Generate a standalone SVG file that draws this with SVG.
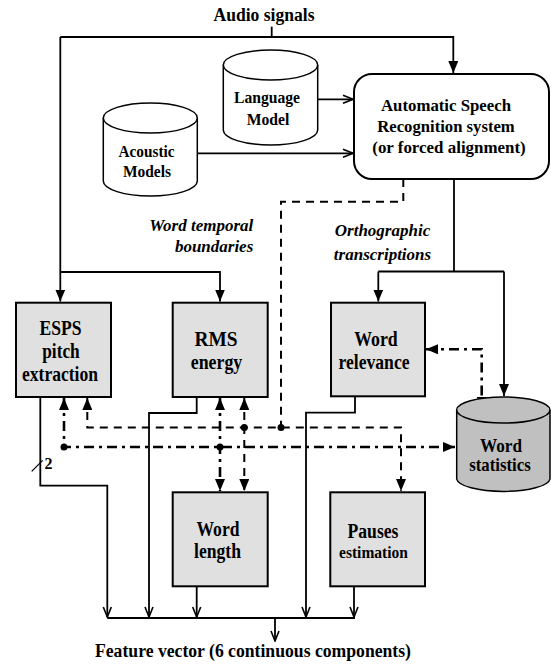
<svg xmlns="http://www.w3.org/2000/svg" width="551" height="665" viewBox="0 0 551 665">
<defs>
<style>
text{font-family:"Liberation Serif","Times New Roman","DejaVu Serif",serif;font-weight:bold;fill:#000}
.bt{font-size:20px;text-anchor:middle}
.it{font-style:italic;font-size:17px}
.box{fill:#e0e0e0;stroke:#000;stroke-width:2}
.cyl{fill:#fff;stroke:#000;stroke-width:1.5}
.cylg{fill:#c0c0c0;stroke:#000;stroke-width:1.5}
.ln{fill:none;stroke:#000;stroke-width:1.8}
.da{fill:none;stroke:#000;stroke-width:2;stroke-dasharray:8 6}
.dd{fill:none;stroke:#000;stroke-width:2.6;stroke-dasharray:10 5 3 5}
.dot{fill:#000}
</style>
<marker id="tri" viewBox="0 0 12 10" refX="12" refY="5" markerWidth="12" markerHeight="10" markerUnits="userSpaceOnUse" orient="auto-start-reverse"><path d="M0,0 L12,5 L0,10 z" fill="#000"/></marker>
<marker id="opn" viewBox="0 0 12 10" refX="11" refY="5" markerWidth="12" markerHeight="10" markerUnits="userSpaceOnUse" orient="auto"><path d="M1,1 L11,5 L1,9" fill="none" stroke="#000" stroke-width="1.6"/></marker>
</defs>
<rect width="551" height="665" fill="#fff"/>

<text x="264" y="21" font-size="18.5" text-anchor="middle" textLength="101" lengthAdjust="spacingAndGlyphs">Audio signals</text>

<g id="connectors">
<path class="ln" d="M271.7,26.7 V37"/>
<path class="ln" d="M60.3,37 V301.5" marker-end="url(#tri)"/>
<path class="ln" d="M60.3,37 H453.3 V73" marker-end="url(#tri)"/>
<path class="ln" d="M60.3,272 H220 V301.5" marker-end="url(#tri)"/>
<path class="ln" d="M317.7,99.3 H353" marker-end="url(#opn)"/>
<path class="ln" d="M197.3,153.3 H353" marker-end="url(#opn)"/>
<path class="ln" d="M454,179 V271.5"/>
<path class="ln" d="M378.3,271.5 H504"/>
<path class="ln" d="M378.3,271.5 V301.5" marker-end="url(#tri)"/>
<path class="ln" d="M504,271.5 V396" marker-end="url(#tri)"/>
<path class="da" d="M403.3,179 V201.7 H281 V427.5"/>
<path class="da" d="M87.3,398 V427.5 H401 V491" marker-start="url(#tri)" marker-end="url(#tri)"/>
<path class="da" d="M244.3,398 V491" marker-start="url(#tri)" marker-end="url(#tri)"/>
<path class="dd" d="M64,398 V447 H455" marker-start="url(#tri)" marker-end="url(#tri)"/>
<path class="dd" d="M220,398 V491" marker-start="url(#tri)" marker-end="url(#tri)"/>
<path class="dd" d="M426,349.3 H481.7 V408.7" marker-start="url(#tri)" marker-end="url(#tri)"/>
<circle class="dot" cx="281" cy="427.5" r="3.5"/>
<circle class="dot" cx="244.3" cy="427.5" r="3.5"/>
<circle class="dot" cx="64" cy="447" r="3.5"/>
<circle class="dot" cx="220" cy="447" r="3.5"/>
<path class="ln" d="M40.3,397 V485.7 H107.3 V617" marker-end="url(#opn)"/>
<path class="ln" d="M196.7,397 V413 H149 V617" marker-end="url(#opn)"/>
<path class="ln" d="M196.7,586.3 V617" marker-end="url(#opn)"/>
<path class="ln" d="M355,396.3 V412.7 H306 V617" marker-end="url(#opn)"/>
<path class="ln" d="M354,586.3 V617" marker-end="url(#opn)"/>
<path class="ln" d="M107.3,618 H355"/>
<path class="ln" d="M275,618 V641" marker-end="url(#opn)"/>
<path fill="none" stroke="#000" stroke-width="1.2" d="M31.7,471.3 L42.7,460.3"/>
<text x="44.5" y="469" font-size="16" font-weight="normal">2</text>
</g>

<g id="asr">
<rect x="354" y="74" width="195" height="105" rx="18" fill="#fff" stroke="#000" stroke-width="2"/>
<text font-size="17.5" text-anchor="middle"><tspan x="446" y="111" textLength="130" lengthAdjust="spacingAndGlyphs">Automatic Speech</tspan><tspan x="446" y="132" textLength="137.5" lengthAdjust="spacingAndGlyphs">Recognition system</tspan><tspan x="449" y="153" textLength="153.5" lengthAdjust="spacingAndGlyphs">(or forced alignment)</tspan></text>
</g>

<g id="language-model">
<path class="cyl" d="M223.3,65 V130 A47.2,15 0 0 0 317.7,130 V65"/>
<ellipse class="cyl" cx="270.5" cy="65" rx="47.2" ry="15"/>
<text font-size="17.5" text-anchor="middle"><tspan x="267" y="103" textLength="66" lengthAdjust="spacingAndGlyphs">Language</tspan><tspan x="268" y="124.5" textLength="42.5" lengthAdjust="spacingAndGlyphs">Model</tspan></text>
</g>

<g id="acoustic-models">
<path class="cyl" d="M103.3,118 V181 A47,15 0 0 0 197.3,181 V118"/>
<ellipse class="cyl" cx="150.3" cy="118" rx="47" ry="15"/>
<text font-size="17.5" text-anchor="middle"><tspan x="146.5" y="156.5" textLength="56" lengthAdjust="spacingAndGlyphs">Acoustic</tspan><tspan x="147" y="176.5" textLength="48" lengthAdjust="spacingAndGlyphs">Models</tspan></text>
</g>

<text class="it" text-anchor="end"><tspan x="253.3" y="231">Word temporal</tspan><tspan x="253.3" y="252">boundaries</tspan></text>
<text class="it" text-anchor="middle"><tspan x="382.5" y="235.5">Orthographic</tspan><tspan x="382.5" y="259.5">transcriptions</tspan></text>

<g id="esps">
<rect class="box" x="16" y="302.7" width="95" height="94.3"/>
<text class="bt"><tspan x="60.5" y="335" textLength="42" lengthAdjust="spacingAndGlyphs">ESPS</tspan><tspan x="61" y="358" textLength="37.5" lengthAdjust="spacingAndGlyphs">pitch</tspan><tspan x="60" y="381" textLength="76" lengthAdjust="spacingAndGlyphs">extraction</tspan></text>
</g>

<g id="rms">
<rect class="box" x="172.7" y="302.7" width="95" height="94.3"/>
<text class="bt"><tspan x="216" y="345.5" textLength="43" lengthAdjust="spacingAndGlyphs">RMS</tspan><tspan x="216.5" y="368.5" textLength="51.5" lengthAdjust="spacingAndGlyphs">energy</tspan></text>
</g>

<g id="word-relevance">
<rect class="box" x="331" y="302.7" width="94" height="93.6"/>
<text class="bt"><tspan x="376" y="346" textLength="43.5" lengthAdjust="spacingAndGlyphs">Word</tspan><tspan x="374" y="369" textLength="71" lengthAdjust="spacingAndGlyphs">relevance</tspan></text>
</g>

<g id="word-statistics">
<path class="cylg" d="M456.7,410 V479 A46.7,13 0 0 0 550,479 V410"/>
<ellipse class="cylg" cx="503.3" cy="410" rx="46.7" ry="13"/>
<text font-size="19" text-anchor="middle"><tspan x="501" y="451.5" textLength="42" lengthAdjust="spacingAndGlyphs">Word</tspan><tspan x="500" y="470.5" textLength="61.5" lengthAdjust="spacingAndGlyphs">statistics</tspan></text>
</g>

<g id="word-length">
<rect class="box" x="172.7" y="492.3" width="95" height="94"/>
<text class="bt"><tspan x="218" y="536" textLength="43" lengthAdjust="spacingAndGlyphs">Word</tspan><tspan x="217.5" y="557.5" textLength="47" lengthAdjust="spacingAndGlyphs">length</tspan></text>
</g>

<g id="pauses">
<rect class="box" x="330.3" y="492.3" width="94.7" height="94"/>
<text text-anchor="middle"><tspan x="373" y="537.5" font-size="20" textLength="51" lengthAdjust="spacingAndGlyphs">Pauses</tspan><tspan x="373.5" y="558" font-size="17.5" textLength="69" lengthAdjust="spacingAndGlyphs">estimation</tspan></text>
</g>

<text x="253" y="656.5" font-size="18.5" text-anchor="middle" textLength="316" lengthAdjust="spacingAndGlyphs">Feature vector (6 continuous components)</text>
</svg>
